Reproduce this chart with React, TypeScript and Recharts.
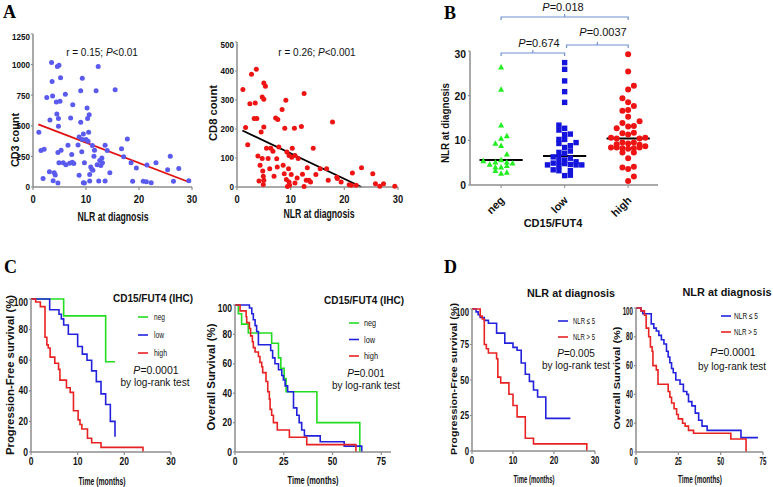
import React from "react";
import { ScatterChart, Scatter, LineChart, Line, XAxis, YAxis, ReferenceLine } from "recharts";

// ---- panel A: NLR vs CD3 / CD8 ----
const cd3Nlr = [1.1, 1.5, 2.1, 1.9, 2.6, 3.1, 3.2, 3.5, 3.6, 3.7, 3.8, 4.0, 4.2, 4.4, 4.5, 4.6, 4.7, 4.7, 4.8, 4.8, 4.9, 4.9, 5.1, 5.2, 5.3, 5.7, 6.1, 6.2, 6.6, 6.9, 7.1, 7.3, 7.4, 7.5, 7.7, 8.5, 8.7, 8.7, 9.0, 9.0, 9.2, 9.3, 9.3, 9.5, 9.5, 9.7, 9.7, 10.0, 10.2, 10.3, 10.4, 10.5, 10.6, 10.7, 10.7, 10.9, 11.1, 11.2, 11.3, 11.5, 11.6, 11.9, 12.1, 12.3, 12.4, 12.6, 12.8, 13.0, 13.1, 13.6, 13.6, 14.0, 14.5, 15.5, 16.7, 17.1, 17.8, 18.5, 18.8, 19.5, 20.8, 21.4, 21.5, 22.3, 23.2, 25.4, 25.9, 26.5, 27.5, 29.4];
const cd3Count = [447, 298, 309, 70, 732, 125, 548, 1017, 862, 743, 52, 117, 98, 694, 597, 984, 33, 282, 496, 559, 198, 995, 700, 892, 300, 198, 757, 182, 342, 195, 564, 266, 203, 672, 193, 344, 409, 95, 529, 786, 287, 889, 388, 35, 434, 198, 33, 388, 645, 559, 374, 447, 591, 103, 49, 163, 144, 339, 136, 252, 300, 786, 182, 984, 49, 217, 176, 236, 198, 342, 49, 298, 117, 794, 312, 247, 393, 198, 46, 155, 46, 43, 179, 35, 198, 141, 252, 46, 152, 52];
const cd3Fit = [{ x: 1.0, y: 512 }, { x: 29.4, y: 41 }];

const cd8Nlr = [1.1, 1.6, 2.0, 2.4, 2.7, 3.2, 3.4, 3.6, 3.7, 3.9, 4.1, 4.3, 4.5, 4.7, 4.7, 4.8, 4.9, 4.9, 5.0, 5.0, 5.0, 5.0, 5.3, 5.5, 5.8, 6.1, 6.3, 6.7, 6.9, 7.2, 7.4, 7.5, 7.6, 7.8, 8.4, 8.6, 8.8, 8.9, 9.1, 9.2, 9.3, 9.4, 9.6, 9.7, 9.7, 9.8, 10.1, 10.2, 10.3, 10.7, 10.8, 10.8, 11.2, 11.4, 12.0, 12.2, 12.5, 12.5, 12.9, 13.1, 13.4, 13.7, 14.2, 14.7, 15.5, 16.7, 17.0, 17.8, 18.6, 18.7, 19.4, 20.9, 21.3, 21.5, 22.2, 23.2, 25.3, 25.8, 26.6, 27.3, 29.4];
const cd8Count = [336, 205, 146, 287, 389, 236, 290, 406, 236, 107, 21, 75, 190, 310, 98, 55, 9, 37, 359, 23, 303, 207, 347, 134, 98, 63, 134, 123, 37, 238, 97, 69, 233, 138, 267, 75, 46, 203, 299, 26, 121, 2, 63, 109, 17, 6, 43, 103, 134, 203, 109, 14, 31, 98, 209, 44, 322, 2, 23, 66, 23, 17, 134, 43, 63, 63, 23, 224, 34, 29, 17, 8, 6, 48, 6, 66, 46, 11, 3, 11, 3];
const cd8Fit = [{ x: 1.0, y: 195 }, { x: 23.2, y: 0 }];

// ---- panel B: NLR by CD15/FUT4 group ----
const groups = ["neg", "low", "high"];
const negNlr = [26.4, 21.4, 13.4, 11.0, 10.4, 9.3, 8.8, 6.9, 5.6, 5.4, 4.6, 5.1, 5.1, 4.9, 4.0, 4.0, 4.3, 3.2, 2.6, 2.8];
const negJit = [0, 0, 0, 0.09, 0, -0.09, 0, 0.09, 0, -0.28, -0.18, -0.09, 0.09, 0.18, -0.09, 0, 0.09, -0.09, 0, 0.09];
const lowNlr = [27.4, 25.9, 23.3, 20.9, 18.5, 13.4, 12.7, 12.3, 11.4, 11.3, 10.2, 9.3, 9.5, 10.2, 8.8, 8.4, 7.3, 7.6, 6.3, 7.1, 6.3, 6.0, 5.2, 5.6, 5.2, 4.5, 4.9, 4.3, 4.6, 4.5, 4.5, 4.8, 3.4, 3.2, 3.2, 2.1, 2.2];
const lowJit = [0, 0, 0, 0, 0, -0.09, 0, -0.09, 0.09, 0, -0.09, -0.09, 0.18, 0, 0.09, 0, -0.09, 0.09, -0.18, 0, -0.09, 0.09, -0.09, 0, 0.18, -0.27, -0.18, -0.09, 0.09, 0.18, 0.27, 0, -0.18, -0.09, 0.09, 0, 0.09];
const highNlr = [29.3, 25.4, 22.2, 21.4, 19.4, 18.5, 17.7, 16.6, 16.8, 15.3, 13.9, 13.2, 14.3, 13.1, 12.7, 11.6, 11.7, 11.3, 10.6, 10.4, 10.6, 10.4, 9.5, 9.5, 9.3, 9.1, 9.0, 8.4, 8.7, 8.2, 8.2, 8.4, 8.4, 8.1, 7.3, 7.3, 6.0, 3.9, 3.6, 4.1, 1.9, 0.9];
const highJit = [0, 0, 0.09, 0, -0.09, 0, 0.09, -0.09, 0, 0, -0.09, 0.09, 0.18, 0, -0.18, -0.09, 0.09, 0, -0.27, -0.18, 0.27, 0.18, -0.09, 0.09, 0, -0.18, 0.18, -0.27, 0.27, -0.09, 0.09, -0.18, 0.18, 0, -0.09, 0.09, 0, -0.09, 0, 0.09, 0.09, 0];
const medians = [5.6, 6.5, 10.4];

// ---- panel C: survival by CD15/FUT4 ----
const pfsNeg = [[0, 100], [7, 89], [16, 59], [18, 59]];
const pfsLow = [[0, 100], [4, 93], [6, 90], [6.5, 87], [7, 83], [8, 77], [10, 69], [11, 64], [12, 60], [13, 53], [14, 46], [15, 38], [16, 31], [17, 20], [18, 10]];
const pfsHigh = [[0, 100], [1, 98], [2, 95], [3, 75], [3.4, 70], [3.7, 68], [4.1, 62], [5.1, 58], [5.9, 54], [6.2, 47], [7.6, 42], [8.4, 39], [9.1, 27], [10.1, 21], [10.5, 18], [10.9, 15], [12.1, 9], [13, 6], [15, 3], [24, 0]];
const osNeg = [[0, 100], [1.7, 94], [3.4, 87], [6.8, 81], [18.8, 74], [22.3, 64], [23.5, 57], [25.2, 50], [26.2, 41], [42, 20], [64, 0]];
const osLow = [[0, 100], [7.4, 98], [8.6, 94], [9.4, 90], [10.3, 86], [11.1, 82], [12, 73], [18.3, 69], [19.3, 64], [20.5, 60], [22.3, 56], [24, 52], [24.8, 49], [25.7, 45], [27, 41], [30, 30], [31.7, 25], [32.9, 20], [34.2, 15], [35.6, 11], [43.7, 7], [56, 4], [65, 0]];
const osHigh = [[0, 100], [2.6, 96], [5.7, 92], [6, 88], [7.4, 84], [8, 79], [8.9, 75], [9.4, 71], [10.3, 68], [12, 65], [12.8, 61], [13.7, 58], [14.2, 54], [15.9, 48], [16.8, 41], [17.6, 36], [18, 29], [18.8, 25], [19.7, 20], [21.7, 15], [27.9, 10], [36.8, 5], [62, 0]];

// ---- panel D: survival by NLR ----
const pfsNlrLow = [[0, 100], [1, 98], [1.5, 96], [2, 94], [3, 92], [4, 90], [6, 83], [8, 76], [10, 73], [11, 71], [12, 62], [13, 54], [14, 49], [15, 43], [16, 38], [18, 23], [24, 23]];
const pfsNlrHigh = [[0, 100], [2, 95], [2.5, 93], [3, 75], [3.5, 72], [4, 69], [6, 65], [6.3, 52], [7, 48], [9, 40], [10, 32], [11, 24], [13, 9], [15, 5], [28, 0]];
const osNlrLow = [[0, 100], [3, 98], [4, 96], [9, 89], [10.5, 86], [12, 84], [13.5, 81], [15, 78], [16.5, 75], [18, 70], [19, 66], [20, 62], [21, 58], [22, 55], [23.5, 50], [26, 47], [28, 42], [30, 40], [31, 35], [33, 32], [35, 27], [37, 22], [39, 18], [42, 15], [62, 10], [72, 10]];
const osNlrHigh = [[0, 100], [3, 98], [5, 95], [6, 86], [7.5, 80], [8.5, 73], [9.5, 70], [10, 60], [12, 57], [13, 47], [19, 42], [20, 38], [21, 34], [22.5, 30], [24, 26], [25, 23], [27.5, 20], [29, 18], [31, 15], [34, 13], [56, 9], [65, 0]];

const GREEN = "#22dd22";
const BLUE = "#2222dd";
const RED = "#e82222";
const AXIS = "#8c8c8c";
const FONT = "'Liberation Sans', Arial, sans-serif";

const YW = 40, MT = 6, MR = 8, XH = 24;

// place a chart so its plot area sits at [x0,x1] x [y0,y1] on the page
function frame(x0: number, y0: number, x1: number, y1: number, xh = XH) {
  return {
    style: { position: "absolute" as const, left: x0 - YW, top: y0 - MT },
    width: x1 - x0 + YW + MR,
    height: y1 - y0 + MT + xh,
  };
}
const margin = { top: MT, right: MR, bottom: 0, left: 0 };

const pts = (xs: number[], ys: number[]) => xs.map((x, i) => ({ x, y: ys[i] }));
const grp = (g: number, vals: number[], jit: number[]) => vals.map((v, i) => ({ x: g + jit[i], y: v }));
const km = (rows: number[][]) => rows.map(([t, s]) => ({ t, s }));

// condensed bold tick text (no narrow font installed, so squeeze horizontally)
const narrowTick = (axis: "x" | "y", fs: number, sx: number) => (p: any) => (
  <g transform={`translate(${p.x},${p.y}) scale(${sx},1)`}>
    <text textAnchor={axis === "y" ? "end" : "middle"} dy={axis === "y" ? "0.35em" : "0.71em"}
      fontSize={fs} fontWeight={700} fill="#111" fontFamily={FONT}>{p.payload.value}</text>
  </g>
);

const axisProps = (axis: "x" | "y", fs: number, sx: number, size: number, gap: number) => ({
  axisLine: { stroke: AXIS, strokeWidth: 1.5 },
  tickLine: { stroke: AXIS, strokeWidth: 1.2 },
  tickSize: size,
  tickMargin: gap,
  tick: narrowTick(axis, fs, sx),
});

const dot = (r: number, fill: string) => (p: any) => <circle cx={p.cx} cy={p.cy} r={r} fill={fill} />;
const square = (fill: string) => (p: any) => <rect x={p.cx - 2.7} y={p.cy - 2.7} width={5.4} height={5.4} fill={fill} />;
const tri = (fill: string) => (p: any) => (
  <path d={`M${p.cx},${p.cy - 3.2}L${p.cx + 3},${p.cy + 2.3}L${p.cx - 3},${p.cy + 2.3}Z`} fill={fill} />
);

const A1 = { x0: 33, y0: 34, x1: 192, y1: 187 };
const A2 = { x0: 237, y0: 42, x1: 398, y1: 187 };
const B = { x0: 470, y0: 51, x1: 658, y1: 185, dmin: -0.49, dmax: 2.47 };
const C1 = { x0: 31, y0: 299, x1: 171, y1: 452 };
const C2 = { x0: 235, y0: 305, x1: 391, y1: 452 };
const D1 = { x0: 472, y0: 309, x1: 595, y1: 451 };
const D2 = { x0: 636, y0: 308, x1: 763, y1: 452 };

const catX = (g: number) => B.x0 + ((g - B.dmin) / (B.dmax - B.dmin)) * (B.x1 - B.x0);

function ScatterPanel({ box, xs, ys, fit, yMax, yTicks, color, fitColor }: any) {
  const f = frame(box.x0, box.y0, box.x1, box.y1);
  return (
    <div style={f.style}>
      <ScatterChart width={f.width} height={f.height} margin={margin}>
        <XAxis type="number" dataKey="x" domain={[0, 30]} ticks={[0, 10, 20, 30]} height={XH} {...axisProps("x", 11, 0.85, 3, 5)} />
        <YAxis type="number" dataKey="y" domain={[0, yMax]} ticks={yTicks} width={YW} {...axisProps("y", 9.5, 0.85, 2, 1)} />
        <Scatter data={pts(xs, ys)} shape={dot(2.5, color)} isAnimationActive={false} />
        <ReferenceLine segment={fit} stroke={fitColor} strokeWidth={1.8} />
      </ScatterChart>
    </div>
  );
}

function KmPanel({ box, xMax, xTicks, yTicks, series, sx = 0.85 }: any) {
  const f = frame(box.x0, box.y0, box.x1, box.y1);
  return (
    <div style={f.style}>
      <LineChart width={f.width} height={f.height} margin={margin}>
        <XAxis type="number" dataKey="t" domain={[0, xMax]} ticks={xTicks} height={XH} {...axisProps("x", 10, sx, 3, 3)} />
        <YAxis type="number" domain={[0, 100]} ticks={yTicks} width={YW} {...axisProps("y", 10, sx, 2, 1)} />
        {series.map((s: any, i: number) => (
          <Line key={i} data={km(s.rows)} dataKey="s" type="stepAfter" stroke={s.color} strokeWidth={1.6} dot={false} isAnimationActive={false} />
        ))}
      </LineChart>
    </div>
  );
}

const catTick = (p: any) => (
  <g transform={`translate(${p.x + 4},${p.y + 11}) rotate(-45)`}>
    <text textAnchor="end" fontSize={11} fontWeight={700} fill="#111" fontFamily={FONT}>{groups[p.payload.value]}</text>
  </g>
);

function DotPlot() {
  const f = frame(B.x0, B.y0, B.x1, B.y1, 36);
  return (
    <div style={f.style}>
      <ScatterChart width={f.width} height={f.height} margin={margin}>
        <XAxis type="number" dataKey="x" domain={[B.dmin, B.dmax]} ticks={[0, 1, 2]} tick={catTick} height={36}
          axisLine={{ stroke: AXIS, strokeWidth: 1.5 }} tickLine={{ stroke: AXIS }} tickSize={3} tickMargin={2} />
        <YAxis type="number" dataKey="y" domain={[0, 30]} ticks={[0, 10, 20, 30]} width={YW} {...axisProps("y", 11.5, 0.9, 2, 2)} />
        <Scatter data={grp(0, negNlr, negJit)} shape={tri("#22ee22")} isAnimationActive={false} />
        <Scatter data={grp(1, lowNlr, lowJit)} shape={square("#1414dd")} isAnimationActive={false} />
        <Scatter data={grp(2, highNlr, highJit)} shape={dot(3, "#ee1414")} isAnimationActive={false} />
        {medians.map((m, g) => (
          <ReferenceLine key={g} segment={[{ x: g - 0.34, y: m }, { x: g + 0.34, y: m }]} stroke="#000" strokeWidth={2} />
        ))}
      </ScatterChart>
    </div>
  );
}

// overlay text; w squeezes/stretches plain text to a given width
const T = ({ w, ...props }: any) => (
  <text fontFamily={FONT} fill="#111" {...(w ? { textLength: w, lengthAdjust: "spacingAndGlyphs" } : {})} {...props} />
);
const VT = ({ x, y, w, children, ...rest }: any) => (
  <text transform={`translate(${x},${y}) rotate(-90)`} textAnchor="middle" fontFamily={FONT} fontWeight={700} fill="#111"
    {...(w ? { textLength: w, lengthAdjust: "spacingAndGlyphs" } : {})} {...rest}>{children}</text>
);
const Pv = ({ v, ...rest }: any) => (
  <T textAnchor="middle" {...rest}><tspan fontStyle="italic">P</tspan>{v}</T>
);

function Bracket({ a, b, y, drop, up }: any) {
  const xa = catX(a), xb = catX(b), xm = (xa + xb) / 2;
  return <path d={`M${xa},${y + drop}V${y}H${xb}V${y + drop}M${xm},${y}V${y - up}`} stroke="#6f8fd0" strokeWidth={1.2} fill="none" />;
}

function Legend({ x, y, gap, items, fs, dx = 15, ws }: any) {
  return (
    <g>
      {items.map((it: any, i: number) => (
        <g key={i}>
          <line x1={x} x2={x + 10} y1={y + i * gap} y2={y + i * gap} stroke={it.color} strokeWidth={1.6} />
          <T x={x + dx} y={y + i * gap + 3} fontSize={fs} w={ws ? ws[i] : undefined}>{it.label}</T>
        </g>
      ))}
    </g>
  );
}

export default function App() {
  const cLegend = [{ label: "neg", color: GREEN }, { label: "low", color: BLUE }, { label: "high", color: RED }];
  const dLegend = [{ label: "NLR \u2264 5", color: BLUE }, { label: "NLR > 5", color: RED }];
  return (
    <div style={{ position: "absolute", left: 0, top: 0, width: 773, height: 487, background: "#fff", overflow: "hidden", fontFamily: FONT }}>
      <ScatterPanel box={A1} xs={cd3Nlr} ys={cd3Count} fit={cd3Fit} yMax={1250} yTicks={[0, 250, 500, 750, 1000, 1250]} color="#5a5aee" fitColor="#e01010" />
      <ScatterPanel box={A2} xs={cd8Nlr} ys={cd8Count} fit={cd8Fit} yMax={500} yTicks={[0, 100, 200, 300, 400, 500]} color="#ee1414" fitColor="#000" />
      <DotPlot />
      <KmPanel box={C1} xMax={30} xTicks={[0, 10, 20, 30]} yTicks={[0, 20, 40, 60, 80, 100]}
        series={[{ rows: pfsNeg, color: GREEN }, { rows: pfsLow, color: BLUE }, { rows: pfsHigh, color: RED }]} />
      <KmPanel box={C2} xMax={80} xTicks={[0, 25, 50, 75]} yTicks={[0, 20, 40, 60, 80, 100]}
        series={[{ rows: osNeg, color: GREEN }, { rows: osLow, color: BLUE }, { rows: osHigh, color: RED }]} />
      <KmPanel box={D1} xMax={30} xTicks={[0, 10, 20, 30]} yTicks={[0, 25, 50, 75, 100]} sx={0.78}
        series={[{ rows: pfsNlrLow, color: BLUE }, { rows: pfsNlrHigh, color: RED }]} />
      <KmPanel box={D2} xMax={75} xTicks={[0, 25, 50, 75]} yTicks={[0, 20, 40, 60, 80, 100]} sx={0.62}
        series={[{ rows: osNlrLow, color: BLUE }, { rows: osNlrHigh, color: RED }]} />

      <svg width={773} height={487} style={{ position: "absolute", left: 0, top: 0, pointerEvents: "none" }}>
        {/* panel letters */}
        <text x={3} y={18} fontFamily="'Liberation Serif', serif" fontWeight={700} fontSize={18}>A</text>
        <text x={444} y={19} fontFamily="'Liberation Serif', serif" fontWeight={700} fontSize={18}>B</text>
        <text x={4} y={273} fontFamily="'Liberation Serif', serif" fontWeight={700} fontSize={18}>C</text>
        <text x={444} y={273} fontFamily="'Liberation Serif', serif" fontWeight={700} fontSize={18}>D</text>

        {/* A */}
        <T x={102} y={56} fontSize={10} textAnchor="middle">r = 0.15; <tspan fontStyle="italic">P</tspan>&lt;0.01</T>
        <T x={317} y={56} fontSize={10} textAnchor="middle">r = 0.26; <tspan fontStyle="italic">P</tspan>&lt;0.001</T>
        <T x={113} y={221} fontSize={12} fontWeight={700} textAnchor="middle" w={71}>NLR at diagnosis</T>
        <T x={319} y={218} fontSize={12} fontWeight={700} textAnchor="middle" w={71}>NLR at diagnosis</T>
        <VT x={19} y={140} fontSize={11} w={54}>CD3 count</VT>
        <VT x={217} y={113} fontSize={11} w={56}>CD8 count</VT>

        {/* B */}
        <VT x={449} y={123} fontSize={10.5} w={80}>NLR at diagnosis</VT>
        <T x={553} y={227} fontSize={11} fontWeight={700} textAnchor="middle">CD15/FUT4</T>
        <Bracket a={0} b={2} y={17} drop={3} up={3} />
        <Bracket a={0} b={1} y={53} drop={3} up={3} />
        <Bracket a={1.03} b={2} y={45} drop={3} up={3} />
        <Pv x={563} y={11} fontSize={11} v="=0.018" />
        <Pv x={539} y={47} fontSize={11} v="=0.674" />
        <Pv x={603} y={36} fontSize={11} v="=0.0037" />

        {/* C left */}
        <VT x={14} y={375} fontSize={10} w={160}>Progression-Free survival (%)</VT>
        <T x={102} y={485} fontSize={11} fontWeight={700} textAnchor="middle" w={47}>Time (months)</T>
        <T x={153} y={302} fontSize={10} fontWeight={700} textAnchor="middle" w={80}>CD15/FUT4 (IHC)</T>
        <Legend x={138} y={317} gap={18} items={cLegend} fs={9.5} dx={16} ws={[11, 10, 13]} />
        <Pv x={156} y={374} fontSize={10.5} v="=0.0001" />
        <T x={155} y={386} fontSize={10.5} textAnchor="middle" w={69}>by log-rank test</T>

        {/* C right */}
        <VT x={215} y={377} fontSize={10} w={107}>Overall Survival (%)</VT>
        <T x={313} y={484} fontSize={11} fontWeight={700} textAnchor="middle" w={51}>Time (months)</T>
        <T x={364} y={304} fontSize={10} fontWeight={700} textAnchor="middle" w={80}>CD15/FUT4 (IHC)</T>
        <Legend x={349} y={323} gap={16.5} items={cLegend} fs={9.5} dx={15} ws={[12, 11, 14]} />
        <Pv x={366} y={377} fontSize={10} v="=0.001" />
        <T x={366} y={389} fontSize={10.5} textAnchor="middle" w={68}>by log-rank test</T>

        {/* D left */}
        <T x={571} y={297} fontSize={11} fontWeight={700} textAnchor="middle" w={88}>NLR at diagnosis</T>
        <VT x={457} y={379} fontSize={9} w={152}>Progression-Free survival (%)</VT>
        <T x={534} y={483} fontSize={10.5} fontWeight={700} textAnchor="middle" w={41}>Time (months)</T>
        <Legend x={558} y={321} gap={16} items={dLegend} fs={9} dx={15} ws={[22, 22]} />
        <Pv x={576} y={357} fontSize={10} v="=0.005" />
        <T x={576} y={369} fontSize={10.5} textAnchor="middle" w={68}>by log-rank test</T>

        {/* D right */}
        <T x={727} y={296} fontSize={11} fontWeight={700} textAnchor="middle" w={89}>NLR at diagnosis</T>
        <VT x={620} y={378} fontSize={9.5} w={103}>Overall Survival (%)</VT>
        <T x={700} y={483} fontSize={10.5} fontWeight={700} textAnchor="middle" w={44}>Time (months)</T>
        <Legend x={721} y={316} gap={16} items={dLegend} fs={9} dx={13} ws={[24, 23]} />
        <Pv x={733} y={356} fontSize={10.5} v="=0.0001" />
        <T x={732} y={370} fontSize={10.5} textAnchor="middle" w={68}>by log-rank test</T>
      </svg>
    </div>
  );
}
